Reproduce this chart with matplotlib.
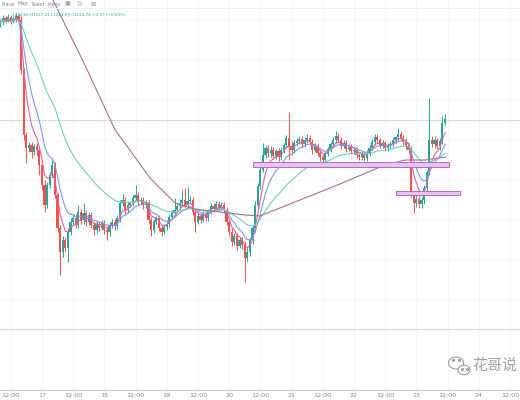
import numpy as np
import pandas as pd
import matplotlib.pyplot as plt
from matplotlib.patches import Rectangle, Ellipse

plt.rcParams['font.family'] = ['Noto Sans CJK SC', 'DejaVu Sans']

# hourly candles, hour 0 = day 17 00:00
hours = np.arange(-16, 156)
first_open = 1227.6
closes = [
    1227.8, 1228.2, 1228.0, 1228.3, 1227.9, 1228.1, 1228.4, 1228.0,
    1223.0, 1216.5, 1215.2, 1215.5, 1214.8, 1215.4, 1215.0, 1213.5,
    1211.5, 1209.5, 1211.5, 1212.5, 1213.5, 1210.5, 1207.2, 1204.8,
    1206.0, 1205.2, 1206.8, 1207.8, 1208.2, 1207.5, 1208.8, 1208.0,
    1208.7, 1207.8, 1208.5, 1207.5, 1207.0, 1207.6, 1207.2, 1207.7,
    1207.0, 1206.8, 1207.5, 1207.8, 1207.4, 1208.2, 1209.7, 1210.0,
    1209.0, 1209.5, 1209.7, 1210.2, 1210.5, 1209.8, 1210.0, 1209.5,
    1209.7, 1208.0, 1207.0, 1207.8, 1208.2, 1207.2, 1206.8, 1207.3,
    1207.6, 1208.3, 1208.7, 1209.0, 1209.4, 1209.7, 1210.0, 1209.5,
    1209.9, 1210.0, 1208.8, 1207.8, 1208.4, 1208.0, 1208.6, 1208.2,
    1208.8, 1209.4, 1209.1, 1209.6, 1209.2, 1209.5, 1209.0, 1207.8,
    1206.8, 1205.8, 1206.4, 1205.4, 1206.0, 1205.5, 1204.2, 1204.8,
    1206.0, 1207.2, 1209.5, 1211.4, 1213.0, 1214.5, 1215.2, 1214.7,
    1215.0, 1214.4, 1214.9, 1214.3, 1215.0, 1215.5, 1216.2, 1215.4,
    1215.0, 1215.7, 1215.9, 1216.1, 1215.6, 1216.0, 1216.2, 1215.8,
    1215.0, 1215.4, 1214.7, 1214.3, 1214.0, 1214.6, 1215.1, 1215.6,
    1216.0, 1216.4, 1216.0, 1215.4, 1215.7, 1215.1, 1215.3, 1214.9,
    1215.0, 1214.5, 1214.3, 1214.6, 1214.2, 1214.7, 1215.2, 1215.8,
    1216.3, 1216.0, 1215.5, 1215.7, 1215.2, 1215.4, 1215.6, 1216.0,
    1216.3, 1216.6, 1216.2, 1215.9, 1215.4, 1215.0, 1210.7, 1209.7,
    1210.1, 1209.6, 1210.0, 1211.2, 1212.8, 1216.0, 1215.6, 1216.0,
    1215.4, 1215.9, 1217.7, 1218.1,
]
highs = [
    1228.1, 1228.5, 1228.4, 1228.6, 1228.5, 1228.4, 1228.7, 1228.6,
    1228.4, 1223.2, 1216.8, 1215.8, 1215.8, 1215.6, 1215.7, 1215.3,
    1214.0, 1212.0, 1211.8, 1212.8, 1214.0, 1213.8, 1210.7, 1207.5,
    1206.4, 1206.3, 1207.2, 1208.2, 1208.6, 1208.6, 1209.5, 1209.1,
    1209.7, 1209.0, 1208.8, 1208.8, 1207.8, 1207.9, 1207.9, 1208.0,
    1208.0, 1207.3, 1207.8, 1208.1, 1208.1, 1208.5, 1210.0, 1210.6,
    1210.3, 1209.8, 1209.9, 1210.5, 1211.5, 1210.8, 1210.3, 1210.3,
    1210.0, 1210.0, 1208.3, 1208.1, 1208.4, 1208.5, 1207.5, 1207.6,
    1207.9, 1208.6, 1209.0, 1210.2, 1209.7, 1210.1, 1211.0, 1211.2,
    1211.3, 1210.4, 1210.3, 1209.1, 1208.7, 1208.7, 1208.9, 1208.9,
    1209.1, 1209.7, 1209.7, 1209.9, 1209.9, 1209.8, 1209.8, 1209.3,
    1208.1, 1207.2, 1206.7, 1206.7, 1206.3, 1206.3, 1205.9, 1205.2,
    1206.3, 1207.5, 1209.9, 1211.7, 1213.3, 1215.7, 1215.5, 1215.5,
    1215.4, 1215.3, 1215.1, 1215.2, 1215.3, 1215.7, 1216.5, 1218.8,
    1215.9, 1216.0, 1216.2, 1216.4, 1216.4, 1216.3, 1216.6, 1216.5,
    1216.1, 1215.7, 1215.7, 1215.0, 1214.6, 1214.9, 1215.3, 1215.8,
    1216.3, 1216.9, 1216.7, 1216.3, 1216.0, 1216.0, 1215.6, 1215.6,
    1215.3, 1215.3, 1214.8, 1214.9, 1214.9, 1215.0, 1215.5, 1216.1,
    1216.6, 1216.6, 1216.2, 1216.0, 1215.9, 1215.7, 1215.9, 1216.3,
    1216.4, 1217.2, 1216.9, 1216.5, 1216.2, 1215.7, 1215.4, 1211.0,
    1210.5, 1210.4, 1210.3, 1211.5, 1213.0, 1220.2, 1216.4, 1216.4,
    1216.2, 1216.2, 1218.4, 1218.6,
]
lows = [
    1227.3, 1227.5, 1227.7, 1227.8, 1227.6, 1227.7, 1227.8, 1227.6,
    1222.6, 1216.0, 1213.7, 1214.8, 1214.2, 1214.5, 1214.4, 1212.5,
    1211.0, 1208.8, 1209.2, 1211.2, 1212.2, 1210.2, 1206.8, 1202.5,
    1204.3, 1204.8, 1203.8, 1206.5, 1207.6, 1207.2, 1207.2, 1207.6,
    1207.6, 1207.4, 1207.5, 1207.2, 1206.5, 1206.7, 1206.9, 1207.0,
    1206.6, 1206.0, 1206.4, 1207.2, 1207.0, 1207.1, 1207.8, 1209.4,
    1208.6, 1208.7, 1209.3, 1209.4, 1210.0, 1209.5, 1209.6, 1209.1,
    1209.2, 1207.6, 1206.4, 1206.7, 1207.6, 1206.9, 1206.4, 1206.6,
    1207.0, 1207.3, 1208.1, 1208.4, 1208.8, 1209.1, 1209.5, 1209.2,
    1209.2, 1209.6, 1208.5, 1206.8, 1207.6, 1207.7, 1207.8, 1207.9,
    1207.9, 1208.6, 1208.8, 1208.9, 1208.9, 1209.0, 1208.7, 1207.5,
    1206.4, 1205.4, 1205.5, 1205.0, 1205.2, 1205.1, 1201.8, 1203.8,
    1204.4, 1205.6, 1206.8, 1209.1, 1211.1, 1212.8, 1214.2, 1214.3,
    1214.3, 1214.1, 1214.1, 1213.9, 1214.0, 1214.7, 1215.2, 1214.0,
    1214.5, 1214.7, 1215.4, 1215.6, 1215.3, 1215.3, 1215.7, 1215.5,
    1214.6, 1214.8, 1214.4, 1213.9, 1213.3, 1213.7, 1214.4, 1214.8,
    1215.3, 1215.7, 1215.7, 1215.1, 1215.2, 1214.8, 1214.9, 1214.6,
    1214.6, 1214.2, 1214.0, 1214.0, 1213.9, 1213.9, 1214.4, 1215.0,
    1215.5, 1215.7, 1215.2, 1215.2, 1214.9, 1214.9, 1215.1, 1215.3,
    1215.7, 1216.0, 1215.9, 1215.5, 1215.1, 1214.7, 1210.3, 1208.7,
    1209.3, 1209.2, 1209.2, 1209.6, 1210.9, 1212.5, 1215.3, 1215.2,
    1215.1, 1215.0, 1215.6, 1217.5,
]
opens = [first_open] + closes[:-1]

# slow moving average (it starts above the visible range)
slow_hours = [1.2, 4.2, 16.5, 28.1, 33.8, 41.5, 51.2, 58.8, 68.5, 78.1,
              83.8, 99.2, 114.6, 130.0, 139.6, 147.3, 155.4]
slow_ma = [1232.0, 1230.0, 1223.5, 1217.0, 1215.0, 1212.2, 1209.7, 1209.1,
           1208.8, 1208.5, 1208.4, 1210.0, 1211.6, 1213.3, 1214.0, 1214.0, 1214.3]

# support / resistance zones: (start hour, end hour, low, high)
zones = [(81.2, 156.5, 1213.3, 1213.8), (136.2, 160.8, 1210.5, 1210.9)]
last_price = 1218.0

tick_hours = [-12, 0, 12, 24, 36, 48, 60, 72, 84, 96, 108, 120, 132, 144, 156, 168, 180]
tick_labels = ['12:00', '17', '12:00', '18', '12:00', '19', '12:00', '20', '12:00',
               '21', '12:00', '22', '12:00', '23', '12:00', '24', '12:00']

UP = '#26a69a'
DOWN = '#ef5350'

fig = plt.figure(figsize=(5.2, 4.0), dpi=100)
ax = fig.add_axes([0, 0.1775, 1, 0.8225])
vax = fig.add_axes([0, 0.025, 1, 0.1525])
xlim = (-16.15, 183.85)

for a in (ax, vax):
    a.set_xlim(*xlim)
    for t in tick_hours:
        a.axvline(t, color='#f4f4f4', lw=0.6, zorder=0)
    a.set_yticks([])
ax.set_ylim(1197.1, 1230.0)
for y in np.arange(1200, 1230, 4):
    ax.axhline(y, color='#f5f5f5', lw=0.6, zorder=0)
for s in ax.spines.values():
    s.set_visible(False)
ax.set_xticks([])

for s in ['left', 'right']:
    vax.spines[s].set_visible(False)
vax.spines['top'].set_color('#d6d6d6')
vax.spines['bottom'].set_color('#c8c8c8')
vax.spines['top'].set_linewidth(0.8)
vax.spines['bottom'].set_linewidth(0.8)
vax.set_xticks(tick_hours)
vax.set_xticklabels(tick_labels, fontsize=4.6, color='#8a8a8a', family='DejaVu Sans')
vax.tick_params(axis='x', length=0, pad=2.5)

# candles
o = np.array(opens)
c = np.array(closes)
cols = [UP if cc >= oo else DOWN for oo, cc in zip(o, c)]
ax.vlines(hours, lows, highs, colors=cols, lw=0.7, zorder=2)
body_lo = np.minimum(o, c)
body_h = np.maximum(np.abs(c - o), 0.1)
ax.bar(hours, body_h, bottom=body_lo, width=0.85, color=cols, zorder=3)

# moving averages
cs = pd.Series(closes, index=hours)
ax.plot(hours, cs.ewm(span=5, adjust=False).mean(), color='#e8609a', lw=0.8, zorder=4)
ax.plot(hours, cs.ewm(span=10, adjust=False).mean(), color='#7d98dc', lw=0.8, zorder=4)
ax.plot(hours, cs.ewm(span=30, adjust=False).mean(), color='#6fd3ad', lw=0.8, zorder=4)
ax.plot(slow_hours, slow_ma, color='#a9718f', lw=0.8, zorder=4)

ax.axhline(last_price, color='#cbdcd9', lw=0.7, zorder=1)

for h0, h1, lo, hi in zones:
    ax.add_patch(Rectangle((h0, lo), h1 - h0, hi - lo, facecolor='#e6c4ee',
                           edgecolor='#b46ac6', lw=0.7, zorder=5))

# header / toolbar text
for xp, label in [(1, 'Place'), (17, 'Map'), (30, 'Tweet'), (48, 'Ideas')]:
    fig.text(xp / 520, 1 - 4 / 400, label, fontsize=3.6, color='#8a8a8a', va='center',
             family='DejaVu Sans')
for xp, glyph in [(64, '▣'), (77, '◎'), (90, '⊠')]:
    fig.text(xp / 520, 1 - 4 / 400, glyph, fontsize=4.5, color='#9a9a9a', va='center',
             family='DejaVu Sans')
fig.add_artist(plt.Line2D([0, 1], [1 - 8 / 400] * 2, color='#eeeeee', lw=0.6))
fig.text(12 / 520, 1 - 15 / 400, '1224.66 H1227.21 L1224.09 C1224.74 +0.37 (+0.03%)',
         fontsize=3.0, color=UP, va='center', family='DejaVu Sans')

# watermark
wax = fig.add_axes([0, 0, 1, 1], facecolor='none')
wax.set_xlim(0, 520)
wax.set_ylim(400, 0)
wax.axis('off')
wax.add_patch(Ellipse((456, 363), 15, 12, facecolor='white', edgecolor='#9c9c9c', lw=0.8))
wax.add_patch(Ellipse((464, 370), 12, 9.5, facecolor='white', edgecolor='#9c9c9c', lw=0.8))
wax.plot([453, 459, 461.5, 466.5], [360, 360, 368.5, 368.5], 'o', ms=1.2, color='#9c9c9c')
wax.text(472, 366, '花哥说', fontsize=10.8, color='#a0a0a0', va='center', ha='left')

fig.savefig('out.png', dpi=100)
